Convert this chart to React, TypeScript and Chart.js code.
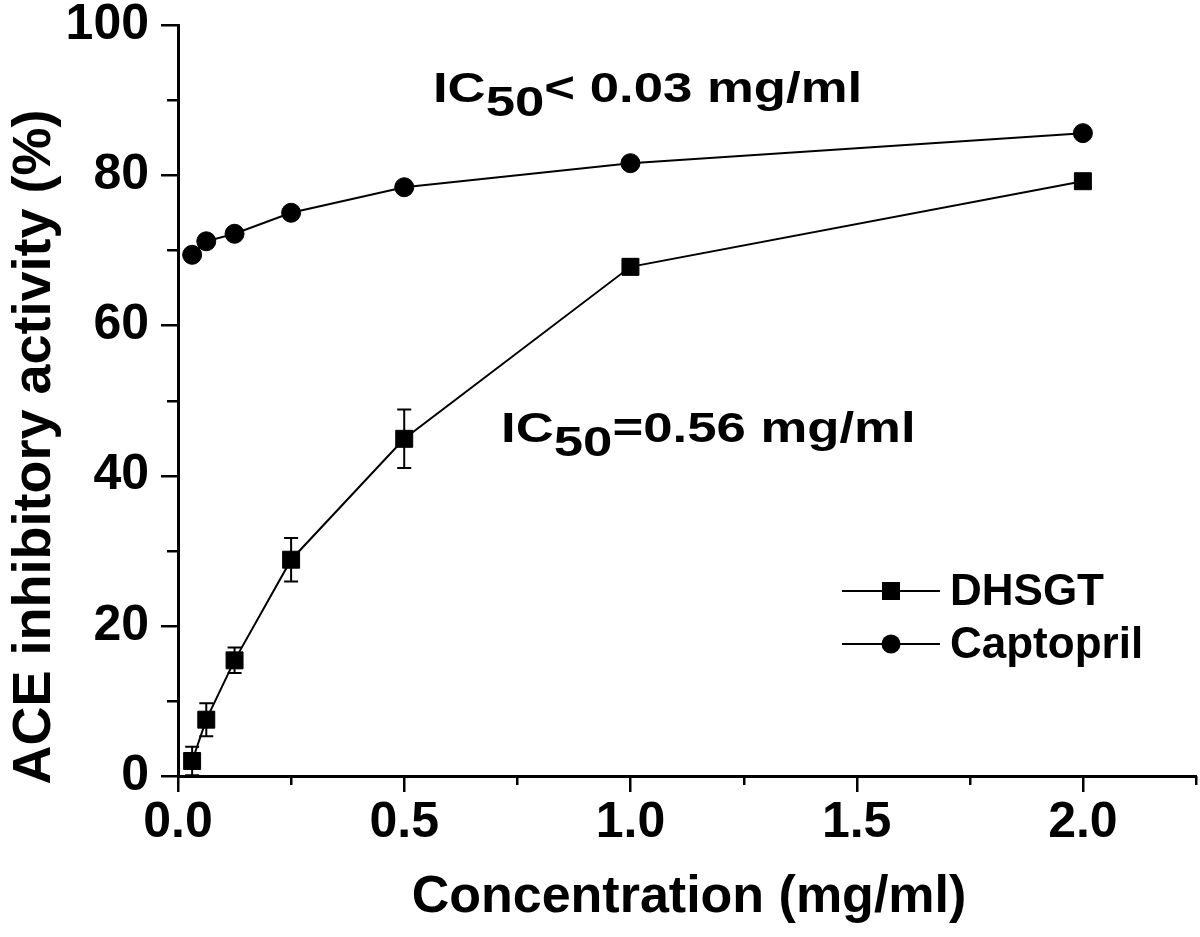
import React, { useEffect, useRef } from "react";
import { Chart, registerables } from "chart.js";

Chart.register(...registerables);

// ---- data ----
const concentrations = [0.03125, 0.0625, 0.125, 0.25, 0.5, 1, 2];
const dhsgtValues = [2.0, 7.5, 15.4, 28.8, 44.9, 67.8, 79.2];
const dhsgtErrors = [1.9, 2.2, 1.7, 2.9, 3.9, 1.0, 0.6];
const captoprilValues = [69.4, 71.2, 72.2, 75.0, 78.4, 81.6, 85.6];
const seriesNames = ["DHSGT", "Captopril"];
const xAxisTitle = "Concentration (mg/ml)";
const yAxisTitle = "ACE inhibitory activity (%)";
const annotationTexts = [
  { main: "IC", sub: "50", rest: "< 0.03 mg/ml", x: 0.5635, y: 89.7 },
  { main: "IC", sub: "50", rest: "=0.56 mg/ml", x: 0.714, y: 44.5 },
];

const FONT = "'Liberation Sans', Arial, Helvetica, sans-serif";

const customPlugin = {
  id: "customDraw",
  beforeDatasetsDraw(chart: any) {
    const { ctx, scales } = chart;
    const x = scales.x;
    const y = scales.y;
    ctx.save();
    ctx.strokeStyle = "#000";
    ctx.lineWidth = 2;
    concentrations.forEach((c, i) => {
      const px = x.getPixelForValue(c);
      const top = y.getPixelForValue(dhsgtValues[i] + dhsgtErrors[i]);
      const bot = y.getPixelForValue(dhsgtValues[i] - dhsgtErrors[i]);
      ctx.beginPath();
      ctx.moveTo(px, top);
      ctx.lineTo(px, bot);
      ctx.moveTo(px - 7, top);
      ctx.lineTo(px + 7, top);
      ctx.moveTo(px - 7, bot);
      ctx.lineTo(px + 7, bot);
      ctx.stroke();
    });
    ctx.restore();
  },
  afterDraw(chart: any) {
    const { ctx, scales, chartArea } = chart;
    const x = scales.x;
    const y = scales.y;
    ctx.save();
    ctx.strokeStyle = "#000";
    ctx.lineWidth = 2.5;
    // x ticks
    x.ticks.forEach((t: any) => {
      const px = Math.round(x.getPixelForValue(t.value)) + 0.25;
      const major = Math.abs(t.value % 0.5) < 1e-9;
      ctx.beginPath();
      ctx.moveTo(px, chartArea.bottom);
      ctx.lineTo(px, chartArea.bottom + (major ? 16 : 9));
      ctx.stroke();
    });
    // y ticks
    y.ticks.forEach((t: any) => {
      const py = Math.round(y.getPixelForValue(t.value)) + 0.25;
      const major = Math.abs(t.value % 20) < 1e-9;
      ctx.beginPath();
      ctx.moveTo(chartArea.left, py);
      ctx.lineTo(chartArea.left - (major ? 17 : 11), py);
      ctx.stroke();
    });

    ctx.fillStyle = "#000";
    // axis titles
    ctx.font = `bold 52px ${FONT}`;
    ctx.textAlign = "center";
    ctx.textBaseline = "alphabetic";
    ctx.fillText(xAxisTitle, 689, 912);
    ctx.save();
    ctx.translate(50, 447);
    ctx.rotate(-Math.PI / 2);
    ctx.font = `bold 54px ${FONT}`;
    ctx.fillText(yAxisTitle, 0, 0);
    ctx.restore();

    // annotations (horizontally stretched text)
    const sx = 1.255;
    annotationTexts.forEach((a) => {
      const px = x.getPixelForValue(a.x);
      const py = y.getPixelForValue(a.y);
      ctx.save();
      ctx.translate(px, py);
      ctx.scale(sx, 1);
      ctx.font = `bold 42px ${FONT}`;
      ctx.textAlign = "left";
      ctx.textBaseline = "alphabetic";
      let cx = 0;
      ctx.fillText(a.main, cx, 0);
      cx += ctx.measureText(a.main).width;
      ctx.fillText(a.sub, cx, 14);
      cx += ctx.measureText(a.sub).width;
      ctx.fillText(a.rest, cx, 0);
      ctx.restore();
    });

    // legend
    const rows = [591, 644];
    ctx.font = `bold 44px ${FONT}`;
    ctx.textAlign = "left";
    ctx.textBaseline = "alphabetic";
    seriesNames.forEach((name, i) => {
      const ly = rows[i];
      ctx.lineWidth = 2;
      ctx.beginPath();
      ctx.moveTo(842, ly);
      ctx.lineTo(940, ly);
      ctx.stroke();
      ctx.beginPath();
      if (i === 0) {
        ctx.rect(882, ly - 9, 18, 18);
      } else {
        ctx.arc(891, ly, 9.5, 0, Math.PI * 2);
      }
      ctx.fill();
      ctx.fillText(name, 950, ly + 14);
    });
    ctx.restore();
  },
};

export default function App() {
  const canvasRef = useRef<HTMLCanvasElement | null>(null);

  useEffect(() => {
    document.body.style.margin = "0";
    const canvas = canvasRef.current;
    if (!canvas) return;
    const tickFont = { family: FONT, size: 50, weight: "bold" as const, lineHeight: 1 };
    const chart = new Chart(canvas, {
      type: "scatter",
      data: {
        datasets: [
          {
            label: seriesNames[0],
            data: concentrations.map((c, i) => ({ x: c, y: dhsgtValues[i] })),
            showLine: true,
            borderColor: "#000",
            backgroundColor: "#000",
            borderWidth: 2,
            pointStyle: "rect",
            pointRadius: 12,
            pointBorderWidth: 1,
            pointBackgroundColor: "#000",
            pointBorderColor: "#000",
            clip: false,
          },
          {
            label: seriesNames[1],
            data: concentrations.map((c, i) => ({ x: c, y: captoprilValues[i] })),
            showLine: true,
            borderColor: "#000",
            backgroundColor: "#000",
            borderWidth: 2,
            pointStyle: "circle",
            pointRadius: 9.5,
            pointBorderWidth: 1,
            pointBackgroundColor: "#000",
            pointBorderColor: "#000",
            clip: false,
          },
        ],
      },
      options: {
        animation: false,
        responsive: false,
        devicePixelRatio: 1,
        layout: { autoPadding: false, padding: { top: 25, right: 4, bottom: 0, left: 0 } },
        plugins: {
          legend: { display: false },
          tooltip: { enabled: false },
          title: { display: false },
        },
        scales: {
          x: {
            type: "linear",
            min: 0,
            max: 2.25,
            grid: { display: false, drawTicks: false },
            border: { display: true, color: "#000", width: 3 },
            ticks: {
              stepSize: 0.25,
              autoSkip: false,
              maxRotation: 0,
              padding: 22,
              color: "#000",
              font: tickFont,
              callback: (v: any) => (Math.abs(Number(v) % 0.5) < 1e-9 ? Number(v).toFixed(1) : ""),
            },
            afterFit: (s: any) => {
              s.height = 161;
              s.paddingLeft = 0;
              s.paddingRight = 0;
              s.paddingTop = 0;
              s.paddingBottom = 0;
            },
          },
          y: {
            type: "linear",
            min: 0,
            max: 100,
            grid: { display: false, drawTicks: false },
            border: { display: true, color: "#000", width: 3 },
            ticks: {
              stepSize: 10,
              autoSkip: false,
              padding: 29,
              color: "#000",
              font: tickFont,
              callback: (v: any) => (Math.abs(Number(v) % 20) < 1e-9 ? String(v) : ""),
            },
            afterFit: (s: any) => {
              s.width = 178;
              s.paddingLeft = 0;
              s.paddingRight = 0;
              s.paddingTop = 0;
              s.paddingBottom = 0;
            },
          },
        },
      },
      plugins: [customPlugin],
    });
    return () => chart.destroy();
  }, []);

  return (
    <div style={{ width: 1200, height: 937, background: "#fff" }}>
      <canvas ref={canvasRef} width={1200} height={937} style={{ width: 1200, height: 937, display: "block" }} />
    </div>
  );
}
